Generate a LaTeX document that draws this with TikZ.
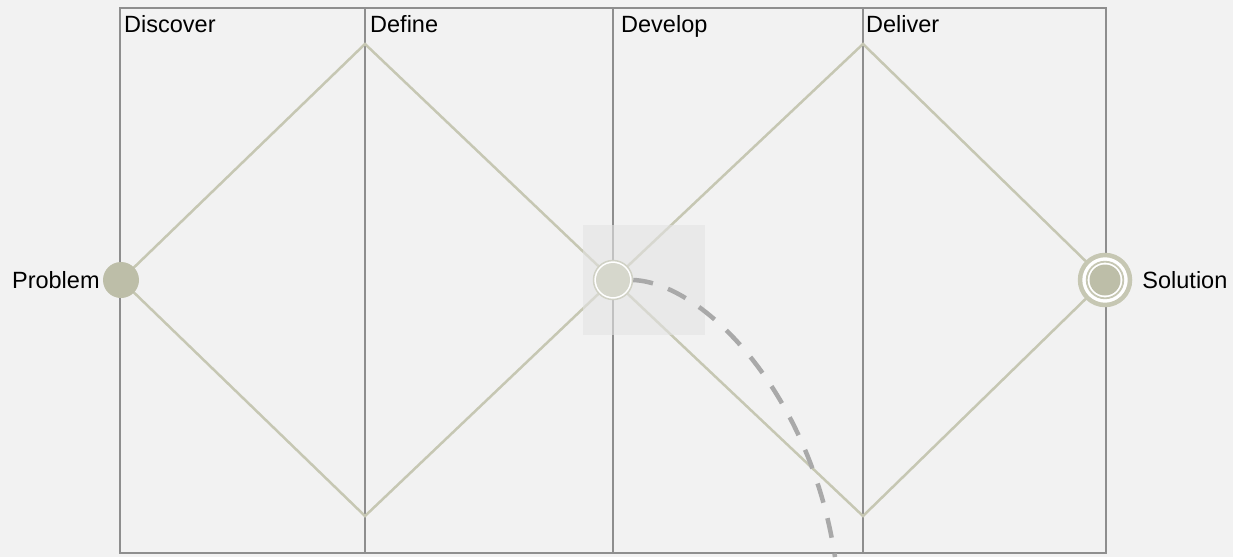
\documentclass[tikz,border=0pt]{standalone}
\usepackage{fontspec}
\setmainfont{Liberation Sans}
\usetikzlibrary{positioning}
\definecolor{bgcol}{HTML}{F2F2F2}
\definecolor{framecol}{HTML}{8E8E8E}
\definecolor{sagecol}{HTML}{C6C7B3}
\definecolor{dotcol}{HTML}{BDBEA8}
\definecolor{pivotcol}{HTML}{D6D7CC}
\definecolor{ringcol}{HTML}{D0D1C5}
\definecolor{shadecol}{HTML}{E3E3E3}
\definecolor{trailcol}{HTML}{A9A9A9}

\begin{document}
\begin{tikzpicture}[x=1pt,y=-1pt,
  phase/.style={anchor=base west,font=\fontsize{23.5}{28}\selectfont,inner sep=0pt},
  endlabel/.style={font=\fontsize{23.5}{28}\selectfont,inner sep=0pt},
  frame/.style={draw=framecol,line width=2pt},
  wing/.style={draw=sagecol,line width=2.5pt},
  trail/.style={draw=trailcol,line width=4.5pt,dash pattern=on 20pt off 16pt}]
  \useasboundingbox (0,0) rectangle (1233,557);
  \fill[bgcol] (0,0) rectangle (1233,557);
  % phase columns
  \draw[frame] (120,8) rectangle (1106,553);
  \foreach \x in {365,613,863}
    \draw[frame] (\x,8) -- (\x,553);
  \node[phase] (discover) at (124,32) {Discover};
  \node[phase] (define) at (370,32) {Define};
  \node[phase] (develop) at (621,32) {Develop};
  \node[phase] (deliver) at (866,32) {Deliver};
  % diamonds
  \coordinate (src) at (121,280);
  \coordinate (mid) at (613,280);
  \coordinate (dst) at (1105,280);
  \coordinate (top1) at (365,44);
  \coordinate (bot1) at (365,516);
  \coordinate (top2) at (863,44);
  \coordinate (bot2) at (863,516);
  \draw[wing] (src) -- (top1) -- (mid) -- (bot1) -- cycle;
  \draw[wing] (mid) -- (top2) -- (dst) -- (bot2) -- cycle;
  \fill[shadecol,opacity=0.6] (583,225) rectangle (705,335);
  % problem
  \node[circle,fill=dotcol,minimum size=36pt,inner sep=0pt] (problem) at (src) {};
  \node[endlabel,left=3pt of problem] (problemtext) {Problem};
  % pivot point
  \node[circle,draw=ringcol,line width=1.5pt,fill=white,minimum size=39pt,inner sep=0pt] (pivot) at (mid) {};
  \fill[pivotcol] (pivot.center) circle (17);
  % solution
  \node[circle,draw=sagecol,line width=4.5pt,fill=white,minimum size=50pt,inner sep=0pt] (solution) at (dst) {};
  \draw[sagecol,line width=1.8pt] (solution.center) circle (18.3);
  \fill[dotcol] (solution.center) circle (15.5);
  \node[endlabel,right=10pt of solution] (solutiontext) {Solution};
  % dashed path
  \coordinate (exit) at (835,557);
  \draw[trail] (pivot.east) .. controls +(70,3) and +(-25,-165) .. (exit);
\end{tikzpicture}
\end{document}
